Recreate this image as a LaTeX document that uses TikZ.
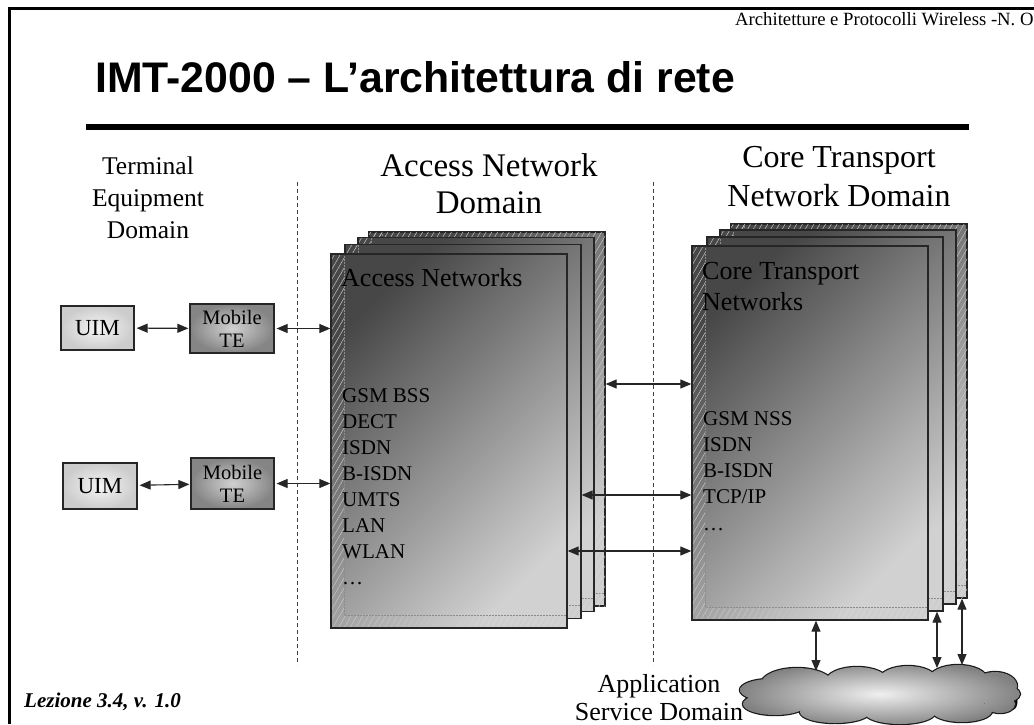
\documentclass[tikz,border=0pt]{standalone}
\usepackage{fontspec}
\setmainfont{Liberation Serif}
\newfontfamily\arialfont{Liberation Sans}
\usetikzlibrary{arrows.meta,patterns.meta}
\tikzset{
  hatch/.style={pattern={Lines[angle=60,distance=5pt,line width=0.5pt]}, pattern color=white!78!black},
  netbox/.style={draw=black!85, line width=1.3pt, minimum width=236pt, minimum height=374pt,
    inner sep=0pt, top color=black!72, bottom color=black!18, shading angle=45,
    path picture={
      \fill[hatch]
        (path picture bounding box.north west) rectangle ([xshift=13pt]path picture bounding box.south west);
      \fill[hatch]
        ([xshift=13pt]path picture bounding box.south west) rectangle ([yshift=13pt]path picture bounding box.south east);
      \draw[densely dotted, black!45, line width=0.5pt]
        ([xshift=13pt]path picture bounding box.north west) -- ([shift={(13pt,13pt)}]path picture bounding box.south west)
        -- ([yshift=13pt]path picture bounding box.south east);
    }},
  rearbox/.style={netbox, postaction={hatch}},
  uimbox/.style={draw=black!85, line width=1.2pt, inner color=black!4, outer color=black!20,
    font=\fontsize{23}{26}\selectfont, inner sep=0pt},
  tebox/.style={draw=black!85, line width=1.2pt, inner color=black!18, outer color=black!48,
    font=\fontsize{20.5}{23}\selectfont, align=center, inner sep=0pt},
  arr/.style={{Triangle[length=11pt,width=9pt]}-{Triangle[length=11pt,width=9pt]}, line width=1.1pt, draw=black!85},
  divider/.style={dashed, dash pattern=on 4pt off 3pt, line width=0.8pt, black!75},
  domtext/.style={align=center, inner sep=0pt},
  item/.style={anchor=base west, inner sep=0pt, font=\fontsize{21}{24}\selectfont},
  boxtitle/.style={anchor=base west, inner sep=0pt, font=\fontsize{26}{30}\selectfont},
}
\begin{document}
\begin{tikzpicture}[x=1pt,y=-1pt]
\useasboundingbox (0,0) rectangle (1034,724);
\fill[white] (0,0) rectangle (1034,724);
% frame
\draw[line width=3pt] (9.5,724) -- (9.5,8.5) -- (1034,8.5);
% header
\node[anchor=base west, inner sep=0pt, font=\fontsize{18.7}{20}\selectfont] (hdr) at (735,25) {Architetture e Protocolli Wireless -N. O};
% title
\node[anchor=base west, inner sep=0pt, font=\arialfont\bfseries\fontsize{42.8}{48}\selectfont] (title) at (95,92) {IMT-2000 – L’architettura di rete};
\fill (86,124) rectangle (969,130);
% domain headings
\node[domtext, font=\fontsize{25.5}{32}\selectfont] (ted) at (148,198) {Terminal\\Equipment\\Domain};
\node[domtext, font=\fontsize{33}{37}\selectfont] (and) at (489,184) {Access Network\\Domain};
\node[domtext, font=\fontsize{32}{39}\selectfont] (ctd) at (839,177) {Core Transport\\Network Domain};
\node[anchor=base, inner sep=0pt, font=\fontsize{26}{28}\selectfont] (asd1) at (659,692) {Application};
\node[anchor=base, inner sep=0pt, font=\fontsize{26}{28}\selectfont] (asd2) at (659,720) {Service Domain};
% dividers
\draw[divider] (297,182) -- (297,665);
\draw[divider] (653,182) -- (653,665);
% access network stack
\node[rearbox] (A4) at (487,419) {};
\node[netbox] (A3) at (476,424.5) {};
\node[netbox] (A2) at (463,431.5) {};
\node[netbox] (A1) at (449,441) {};
\node[boxtitle] (at) at (341,286) {Access Networks};
\foreach \t [count=\i] in {GSM BSS,DECT,ISDN,B-ISDN,UMTS,LAN,WLAN,…}
  \node[item] (al\i) at (342,{402+26*(\i-1)}) {\t};
% core stack
\node[rearbox] (C4) at (849,411) {};
\node[netbox] (C3) at (838,417) {};
\node[netbox] (C2) at (825,424) {};
\node[netbox] (C1) at (810,433) {};
\node[boxtitle] (ct1) at (702,279) {Core Transport};
\node[boxtitle] (ct2) at (702,310) {Networks};
\foreach \t [count=\i] in {GSM NSS,ISDN,B-ISDN,TCP/IP,…}
  \node[item] (cl\i) at (703,{425+26.3*(\i-1)}) {\t};
% terminals
\node[uimbox, minimum width=73pt, minimum height=44pt] (U1) at (97.5,328) {UIM};
\node[tebox, minimum width=84pt, minimum height=49pt] (M1) at (232,328.5) {Mobile\\TE};
\node[uimbox, minimum width=74pt, minimum height=46pt] (U2) at (100,486) {UIM};
\node[tebox, minimum width=83pt, minimum height=51pt] (M2) at (232.5,483.5) {Mobile\\TE};
\draw[arr, shorten <=2pt, shorten >=1pt] (U1) -- (M1);
\draw[arr, shorten <=2pt, shorten >=1pt] (U2) -- (M2);
\draw[arr, shorten <=2pt] (M1.east) -- (M1.east -| A1.west);
\draw[arr, shorten <=2pt] (M2.east) -- (M2.east -| A1.west);
% access <-> core
\coordinate (r1) at (650,384);
\coordinate (r2) at (650,495);
\coordinate (r3) at (650,551);
\draw[arr] (A4.east |- r1) -- (C1.west |- r1);
\draw[arr] (A2.east |- r2) -- (C1.west |- r2);
\draw[arr] (A1.east |- r3) -- (C1.west |- r3);
% page number (partly hidden by the cloud)
\node[inner sep=0pt, font=\fontsize{26}{28}\selectfont] (pg) at (1012,702) {9};
% cloud: union of puffs
\def\puffs{
  (770,690) ellipse [x radius=30, y radius=11]
  (797,684) ellipse [x radius=36, y radius=16]
  (857,681) ellipse [x radius=31, y radius=14]
  (908,680) ellipse [x radius=29, y radius=14]
  (958,679) ellipse [x radius=29, y radius=14]
  (995,686) ellipse [x radius=22, y radius=14]
  (1000,694) ellipse [x radius=20, y radius=9]
  (1000,704) ellipse [x radius=15, y radius=9]
  (962,711) ellipse [x radius=30, y radius=11]
  (900,713) ellipse [x radius=35, y radius=11]
  (835,712) ellipse [x radius=35, y radius=11]
  (775,704) ellipse [x radius=32, y radius=11]
  (885,695) ellipse [x radius=112, y radius=18]}
\draw[line width=2.4pt, black!90] \puffs;
\begin{scope}
  \clip \puffs;
  \shade[inner color=black!6, outer color=black!50] (736,660) rectangle (1024,728);
\end{scope}
\coordinate (k1) at (816,671);
\coordinate (k2) at (937,668);
\coordinate (k3) at (962,665);
\draw[arr] (k1 |- C1.south) -- (k1);
\draw[arr] (k2 |- C2.south) -- (k2);
\draw[arr] (k3 |- C4.south) -- (k3);
% footer
\node[anchor=base west, inner sep=0pt, font=\fontsize{21}{24}\selectfont\bfseries\itshape] (lez) at (24,707) {Lezione 3.4, v. 1.0};
\end{tikzpicture}
\end{document}
